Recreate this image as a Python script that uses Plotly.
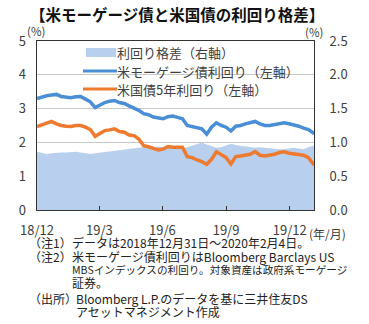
import pandas as pd
import plotly.graph_objects as go

# ---- data (weekly) ----
start_date = "2018-12-31"
n_weeks = 58
dates = list(pd.date_range(start_date, periods=n_weeks, freq="7D")) + [pd.Timestamp("2020-02-04")]

mbs_yield = [3.30, 3.35, 3.38, 3.40, 3.42, 3.36, 3.33, 3.32, 3.35, 3.36,
             3.28, 3.20, 3.03, 3.12, 3.18, 3.22, 3.24, 3.18, 3.15, 3.08,
             3.02, 2.95, 2.85, 2.82, 2.75, 2.72, 2.70, 2.76, 2.78, 2.74,
             2.70, 2.50, 2.46, 2.43, 2.40, 2.24, 2.45, 2.58, 2.50, 2.45,
             2.34, 2.48, 2.50, 2.55, 2.58, 2.62, 2.55, 2.50, 2.50, 2.53,
             2.56, 2.58, 2.55, 2.52, 2.48, 2.42, 2.38, 2.28, 2.24]

ust5_yield = [2.47, 2.52, 2.55, 2.62, 2.55, 2.50, 2.48, 2.47, 2.50, 2.50,
              2.45, 2.38, 2.18, 2.28, 2.35, 2.37, 2.40, 2.32, 2.30, 2.22,
              2.20, 2.10, 1.90, 1.87, 1.82, 1.78, 1.80, 1.88, 1.86, 1.85,
              1.86, 1.58, 1.55, 1.48, 1.43, 1.35, 1.50, 1.72, 1.63, 1.55,
              1.36, 1.58, 1.60, 1.62, 1.65, 1.73, 1.62, 1.60, 1.62, 1.65,
              1.70, 1.72, 1.68, 1.66, 1.65, 1.62, 1.55, 1.38, 1.33]

spread = [0.86, 0.84, 0.83, 0.84, 0.85, 0.85, 0.85, 0.86, 0.86, 0.85,
          0.84, 0.83, 0.84, 0.85, 0.86, 0.87, 0.88, 0.88, 0.89, 0.90,
          0.91, 0.92, 0.93, 0.94, 0.93, 0.94, 0.93, 0.92, 0.93, 0.92,
          0.91, 0.93, 0.95, 0.97, 1.00, 0.97, 0.95, 0.92, 0.93, 0.95,
          0.98, 0.96, 0.95, 0.94, 0.93, 0.92, 0.93, 0.92, 0.92, 0.91,
          0.90, 0.90, 0.91, 0.92, 0.91, 0.90, 0.93, 0.95, 0.92]

tick_dates = ["2018-12-31", "2019-03-31", "2019-06-30", "2019-09-30", "2019-12-31"]
tick_labels = ["18/12", "19/3", "19/6", "19/9", "19/12"]

series_names = ["利回り格差（右軸）", "米モーゲージ債利回り（左軸）", "米国債5年利回り（左軸）"]
series_colors = ["#b9cfee", "#4a8ed6", "#ee7a30"]

title_text = "【米モーゲージ債と米国債の利回り格差】"
notes = [
    ("（注1）", "データは2018年12月31日～2020年2月4日。"),
    ("（注2）", "米モーゲージ債利回りはBloomberg Barclays US"),
    ("", "MBSインデックスの利回り。対象資産は政府系モーゲージ"),
    ("", "証券。"),
    ("（出所）", "Bloomberg L.P.のデータを基に三井住友DS"),
    ("", "アセットマネジメント作成"),
]

# ---- layout helpers (pixel -> paper) ----
W, H = 369, 324
L, R, T, B = 37, 314, 41, 210
def px(x):
    return (x - L) / (R - L)
def py(y):
    return (B - y) / (B - T)

FONT = "Noto Sans CJK JP"
TXT = "#404040"

fig = go.Figure()
# spread area on primary (right-hand) axis so the lines (overlay axis) sit above it
fig.add_trace(go.Scatter(
    x=dates, y=spread, name=series_names[0], yaxis="y",
    mode="lines", line=dict(width=0, color=series_colors[0]),
    fill="tozeroy", fillcolor=series_colors[0], showlegend=False,
))
fig.add_trace(go.Scatter(
    x=dates, y=mbs_yield, name=series_names[1], yaxis="y2", mode="lines",
    line=dict(color=series_colors[1], width=3.5), showlegend=False,
))
fig.add_trace(go.Scatter(
    x=dates, y=ust5_yield, name=series_names[2], yaxis="y2", mode="lines",
    line=dict(color=series_colors[2], width=3.5), showlegend=False,
))

fig.update_layout(
    width=W, height=H,
    margin=dict(l=L, r=W - R, t=T, b=H - B),
    paper_bgcolor="white", plot_bgcolor="white",
    font=dict(family=FONT, size=13, color=TXT),
    showlegend=False,
    xaxis=dict(type="date", range=["2018-12-31", "2020-02-04"],
               tickvals=tick_dates, ticktext=tick_labels,
               ticks="inside", ticklen=4, tickcolor="#333",
               showline=True, linecolor="#333", linewidth=1, mirror=True,
               showgrid=False, ticklabelstandoff=8,
               tickfont=dict(size=13, color=TXT)),
    yaxis=dict(range=[0, 2.5], dtick=0.5, tickformat=".1f", side="right",
               showgrid=True, gridcolor="#c8c8c8",
               showline=True, linecolor="#333", linewidth=1, mirror=True,
               ticks="", zeroline=False, ticklabelstandoff=12,
               tickfont=dict(size=13, color=TXT)),
    yaxis2=dict(range=[0, 5], dtick=1, overlaying="y", side="left",
                showgrid=False, zeroline=False, ticks="",
                ticklabelstandoff=10, tickfont=dict(size=13, color=TXT)),
)

# ---- legend drawn by hand (swatches + labels) ----
shapes = []
leg_y = [52.5, 71, 89]
shapes.append(dict(type="rect", xref="paper", yref="paper",
                   x0=px(86), x1=px(116), y0=py(48), y1=py(57),
                   fillcolor=series_colors[0], line=dict(width=0)))
for c, yy in zip(series_colors[1:], leg_y[1:]):
    shapes.append(dict(type="line", xref="paper", yref="paper",
                       x0=px(83), x1=px(117), y0=py(yy), y1=py(yy),
                       line=dict(color=c, width=3)))
fig.update_layout(shapes=shapes)

ann = []
for name, yy in zip(series_names, leg_y):
    ann.append(dict(text=name, xref="paper", yref="paper", x=px(115), y=py(yy),
                    xanchor="left", yanchor="middle", showarrow=False,
                    font=dict(size=13, color=TXT)))
ann.append(dict(text="<b>" + title_text + "</b>", xref="paper", yref="paper",
                x=px(28), y=py(14), xanchor="left", yanchor="middle",
                showarrow=False, font=dict(size=15.5, color="#111")))
ann.append(dict(text="(%)", xref="paper", yref="paper", x=px(36), y=py(31),
                xanchor="center", yanchor="middle", showarrow=False,
                font=dict(size=11.5, color=TXT)))
ann.append(dict(text="(%)", xref="paper", yref="paper", x=px(314), y=py(32),
                xanchor="center", yanchor="middle", showarrow=False,
                font=dict(size=11.5, color=TXT)))
ann.append(dict(text="(年/月)", xref="paper", yref="paper", x=px(307), y=py(233),
                xanchor="left", yanchor="middle", showarrow=False,
                font=dict(size=12, color=TXT)))
note_y = [242, 256, 269, 282, 298, 311]
note_x = [70, 70, 70, 70, 74, 74]
note_size = [12, 12, 10.6, 12, 12, 12]
for (lab, body), yy, bx, fs in zip(notes, note_y, note_x, note_size):
    if lab:
        ann.append(dict(text=lab, xref="paper", yref="paper", x=px(27), y=py(yy),
                        xanchor="left", yanchor="middle", showarrow=False,
                        font=dict(size=12, color="#222")))
    ann.append(dict(text=body, xref="paper", yref="paper", x=px(bx), y=py(yy),
                    xanchor="left", yanchor="middle", showarrow=False,
                    font=dict(size=fs, color="#222")))
fig.update_layout(annotations=ann)

fig.write_html("out.html")
